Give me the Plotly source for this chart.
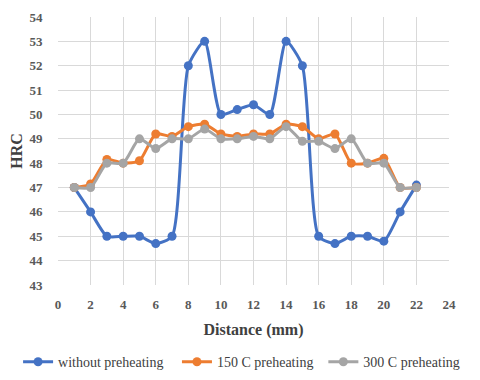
import plotly.graph_objects as go

distance = list(range(1, 23))
without_preheating = [47, 46, 45, 45, 45, 44.7, 45, 52, 53, 50, 50.2, 50.4, 50, 53, 52, 45, 44.7, 45, 45, 44.8, 46, 47.1]
preheat_150 = [47, 47.15, 48.15, 48, 48.1, 49.2, 49.1, 49.5, 49.6, 49.2, 49.1, 49.2, 49.2, 49.6, 49.5, 49.0, 49.2, 48.0, 48.0, 48.2, 47, 47]
preheat_300 = [47, 47, 48, 48, 49, 48.6, 49, 49, 49.4, 49, 49, 49.1, 49, 49.5, 48.9, 48.9, 48.6, 49, 48, 48, 47, 47]

series = [
    ("without preheating", without_preheating, "#4472C4"),
    ("150 C preheating", preheat_150, "#ED7D31"),
    ("300 C preheating", preheat_300, "#A5A5A5"),
]

ff = "Liberation Serif, Times New Roman, serif"
legend_names = ["legend", "legend2", "legend3"]
legend_x = [0.021, 0.352, 0.657]

fig = go.Figure()
for (name, vals, color), lg in zip(series, legend_names):
    fig.add_trace(go.Scatter(
        x=distance, y=vals, name=name, mode="lines+markers",
        line=dict(color=color, width=3, shape="spline", smoothing=0.6),
        marker=dict(color=color, size=9),
        legend=lg,
    ))

legend_common = dict(orientation="h", xanchor="left", xref="container",
                     yref="container", y=0.068, yanchor="middle",
                     font=dict(family=ff, size=14, color="#404040"),
                     bgcolor="rgba(0,0,0,0)")
fig.update_layout(
    width=480, height=380,
    margin=dict(l=50, r=39, t=9, b=103, autoexpand=False),
    paper_bgcolor="white", plot_bgcolor="white",
    font=dict(family=ff, size=12, color="#595959"),
    showlegend=True,
    legend=dict(x=legend_x[0], **legend_common),
    legend2=dict(x=legend_x[1], **legend_common),
    legend3=dict(x=legend_x[2], **legend_common),
)
fig.update_xaxes(
    range=[0, 24], dtick=2, tick0=0,
    showgrid=True, gridcolor="#D9D9D9", gridwidth=1,
    zeroline=False, showline=False,
    tickfont=dict(family=ff, size=13, color="#595959", weight="bold"),
    title=dict(text="Distance (mm)", font=dict(family=ff, size=16, color="#404040", weight="bold"), standoff=13),
    ticks="outside", ticklen=7, tickcolor="rgba(0,0,0,0)",
)
fig.update_yaxes(
    range=[43, 54], dtick=1, tick0=43,
    showgrid=True, gridcolor="#D9D9D9", gridwidth=1,
    zeroline=False, showline=False,
    tickfont=dict(family=ff, size=13, color="#595959", weight="bold"),
    title=dict(text="HRC", font=dict(family=ff, size=16, color="#404040", weight="bold"), standoff=4),
    ticks="outside", ticklen=12, tickcolor="rgba(0,0,0,0)",
)
fig.write_html("out.html")
